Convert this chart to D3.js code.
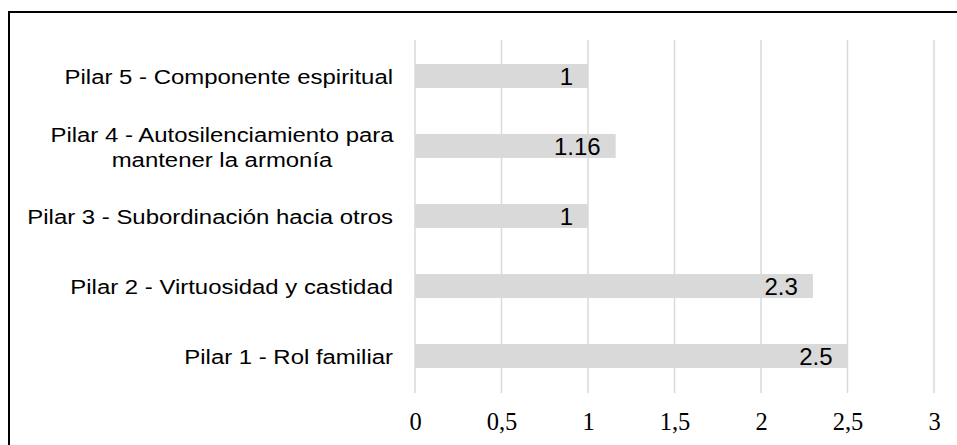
<!DOCTYPE html>
<html lang="es">
<head>
<meta charset="utf-8">
<title>Pilares</title>
<script src="https://cdn.jsdelivr.net/npm/d3@7"></script>
<style>
  body { margin: 0; background: #fff; }
  .cat text { font-family: Arial, "Liberation Sans", sans-serif; font-size: 21px; fill: #000; }
  .val { font-family: Arial, "Liberation Sans", sans-serif; font-size: 24px; fill: #000; text-anchor: end; }
  .xaxis text { font-family: "Times New Roman", "Liberation Serif", serif; font-size: 24.5px; fill: #000; }
</style>
</head>
<body>
<svg width="957" height="445"></svg>
<script>
  // data
  var categories = [
    ["Pilar 5 - Componente espiritual"],
    ["Pilar 4 - Autosilenciamiento para", "mantener la armonía"],
    ["Pilar 3 - Subordinación hacia otros"],
    ["Pilar 2 - Virtuosidad y castidad"],
    ["Pilar 1 - Rol familiar"]
  ];
  var values = [1, 1.16, 1, 2.3, 2.5];
  var valueLabels = ["1", "1.16", "1", "2.3", "2.5"];
  var ticks = [0, 0.5, 1, 1.5, 2, 2.5, 3];
  var tickLabels = ["0", "0,5", "1", "1,5", "2", "2,5", "3"];

  var svg = d3.select("svg");

  // outer frame (right/bottom edges fall outside the picture)
  svg.append("rect")
    .attr("x", 9).attr("y", 12)
    .attr("width", 960).attr("height", 450)
    .attr("fill", "none").attr("stroke", "#000").attr("stroke-width", 2);

  var x = d3.scaleLinear().domain([0, 3]).range([415, 934]);
  var y = d3.scaleBand().domain(d3.range(categories.length))
    .range([41, 391]).paddingInner(0.657).paddingOuter(0.657 / 2);

  // gridlines
  svg.append("g").selectAll("line")
    .data(ticks).enter().append("line")
    .attr("x1", function(d) { return x(d); })
    .attr("x2", function(d) { return x(d); })
    .attr("y1", 40).attr("y2", 393)
    .attr("stroke", "#d9d9d9").attr("stroke-width", 1.5);

  // x axis labels
  var xAxis = d3.axisBottom(x).tickValues(ticks)
    .tickFormat(function(d, i) { return tickLabels[i]; })
    .tickSize(0).tickPadding(0);
  var gx = svg.append("g").attr("class", "xaxis")
    .attr("transform", "translate(0,430)")
    .call(xAxis);
  gx.select(".domain").remove();
  gx.selectAll("text").attr("dy", 0).attr("y", 0);

  // bars
  svg.append("g").selectAll("rect")
    .data(values).enter().append("rect")
    .attr("x", x(0))
    .attr("y", function(d, i) { return y(i); })
    .attr("width", function(d) { return x(d) - x(0); })
    .attr("height", y.bandwidth())
    .attr("fill", "#d9d9d9");

  // value labels
  svg.append("g").selectAll("text")
    .data(values).enter().append("text")
    .attr("class", "val")
    .attr("x", function(d) { return x(d) - 15; })
    .attr("y", function(d, i) { return y(i) + y.bandwidth() / 2 + 9; })
    .text(function(d, i) { return valueLabels[i]; });

  // category labels (text in the picture is a bit stretched sideways)
  var sx = 1.14;
  var cat = svg.append("g").attr("class", "cat");
  categories.forEach(function(lines, i) {
    var cy = y(i) + y.bandwidth() / 2;
    if (lines.length === 1) {
      cat.append("g")
        .attr("transform", "translate(393," + (cy + 8) + ") scale(" + sx + ",1)")
        .append("text").attr("text-anchor", "end").text(lines[0]);
    } else {
      var g = cat.append("g")
        .attr("transform", "translate(222," + (cy + 8.5) + ") scale(" + sx + ",1)");
      lines.forEach(function(s, j) {
        g.append("text").attr("text-anchor", "middle")
          .attr("y", (j - (lines.length - 1) / 2) * 25)
          .text(s);
      });
    }
  });
</script>
</body>
</html>
